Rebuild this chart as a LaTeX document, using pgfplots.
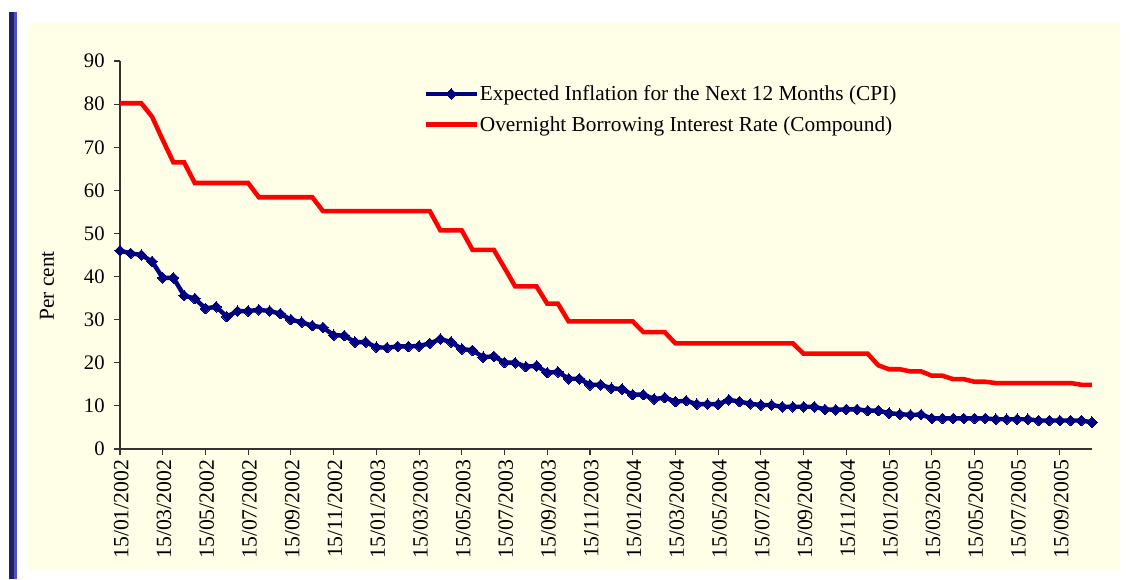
\documentclass[border=0pt]{standalone}
\usepackage{fontspec}
\setmainfont{Liberation Serif}
\usepackage{pgfplots}
\pgfplotsset{compat=1.18}
\usepackage{pgfplotstable}
\definecolor{cream}{HTML}{FFFFE8}
\definecolor{navyline}{HTML}{000080}
\definecolor{barnavy}{HTML}{22226B}
\definecolor{barlight}{HTML}{5050C0}

\pgfplotstableread{
i cpi rate
0 46.0 80.2
1 45.4 80.2
2 45.0 80.2
3 43.5 77.1
4 39.7 71.7
5 39.7 66.5
6 35.6 66.5
7 34.9 61.7
8 32.6 61.7
9 33.0 61.7
10 30.7 61.7
11 32.0 61.7
12 32.0 61.7
13 32.3 58.4
14 32.0 58.4
15 31.4 58.4
16 30.0 58.4
17 29.4 58.4
18 28.6 58.4
19 28.2 55.2
20 26.4 55.2
21 26.3 55.2
22 24.8 55.2
23 24.8 55.2
24 23.6 55.2
25 23.5 55.2
26 23.8 55.2
27 23.8 55.2
28 23.9 55.2
29 24.5 55.2
30 25.5 50.7
31 24.8 50.7
32 23.2 50.7
33 22.9 46.2
34 21.3 46.2
35 21.5 46.2
36 20.1 42.0
37 20.0 37.7
38 19.1 37.7
39 19.3 37.7
40 17.7 33.7
41 17.9 33.7
42 16.3 29.6
43 16.3 29.6
44 14.9 29.6
45 14.9 29.6
46 14.1 29.6
47 13.9 29.6
48 12.6 29.6
49 12.6 27.1
50 11.6 27.1
51 11.9 27.1
52 11.0 24.5
53 11.2 24.5
54 10.4 24.5
55 10.4 24.5
56 10.4 24.5
57 11.4 24.5
58 11.0 24.5
59 10.5 24.5
60 10.2 24.5
61 10.2 24.5
62 9.8 24.5
63 9.8 24.5
64 9.8 22.1
65 9.8 22.1
66 9.2 22.1
67 9.1 22.1
68 9.2 22.1
69 9.2 22.1
70 8.9 22.1
71 8.9 19.4
72 8.3 18.5
73 8.1 18.5
74 7.9 18.0
75 8.0 18.0
76 7.1 17.0
77 7.1 17.0
78 7.1 16.2
79 7.1 16.2
80 7.1 15.6
81 7.1 15.6
82 6.9 15.3
83 6.9 15.3
84 6.9 15.3
85 6.9 15.3
86 6.6 15.3
87 6.6 15.3
88 6.6 15.3
89 6.6 15.3
90 6.6 14.9
91 6.2 14.9
}\datatable

\begin{document}
\begin{tikzpicture}
\useasboundingbox (0,0) rectangle (848.25pt,434.25pt);
\fill[white] (0,0) rectangle (848.25pt,434.25pt);
\fill[cream] (20pt,6.75pt) rectangle (840pt,416.8pt);
\fill[barnavy] (6.75pt,0pt) rectangle (10.5pt,425pt);
\fill[barlight] (10.5pt,0pt) rectangle (12.75pt,425pt);
\begin{axis}[
  at={(90pt,97.5pt)}, anchor=south west,
  scale only axis, width=729pt, height=291pt,
  xmin=0, xmax=91, ymin=0, ymax=90,
  axis x line*=bottom, axis y line*=left,
  axis line style={black!80, line width=0.8pt},
  every tick/.style={black!80, line width=0.8pt},
  tick align=outside, major tick length=4.5pt,
  ytick={0,10,...,90},
  xtick={0,4,...,88},
  xticklabels={15/01/2002,15/03/2002,15/05/2002,15/07/2002,15/09/2002,15/11/2002,
               15/01/2003,15/03/2003,15/05/2003,15/07/2003,15/09/2003,15/11/2003,
               15/01/2004,15/03/2004,15/05/2004,15/07/2004,15/09/2004,15/11/2004,
               15/01/2005,15/03/2005,15/05/2005,15/07/2005,15/09/2005},
  xticklabel style={rotate=90, anchor=east, yshift=-1pt, font=\fontsize{16.3pt}{19pt}\selectfont},
  yticklabel style={xshift=-3.5pt, font=\fontsize{15.5pt}{18pt}\selectfont},
  /pgf/number format/assume math mode=true,
  ylabel={Per cent},
  every axis y label/.style={at={(axis description cs:-0.0751,0.42)}, rotate=90, anchor=center, font=\fontsize{16pt}{19pt}\selectfont},
  legend style={draw=none, fill=none, at={(rel axis cs:0.308,0.945)}, anchor=north west,
    font=\fontsize{16pt}{19pt}\selectfont, row sep=10.5pt,
    nodes={inner xsep=0.8pt, inner ysep=0pt}},
  legend cell align=left,
  legend image code/.code={\draw[mark repeat=2,mark phase=2,#1] plot coordinates {(0pt,0pt) (19pt,0pt) (38pt,0pt)};},
]
\addplot[color=navyline, line width=3.3pt, mark=square*, mark size=2.8pt, mark options={rotate=45, solid, line width=0pt, fill=navyline}] table[x=i, y=cpi] {\datatable};
\addlegendentry{Expected Inflation for the Next 12 Months (CPI)}
\addplot[color=red, line width=3.4pt, no markers] table[x=i, y=rate] {\datatable};
\addlegendentry{Overnight Borrowing Interest Rate (Compound)}
\end{axis}
\end{tikzpicture}
\end{document}
